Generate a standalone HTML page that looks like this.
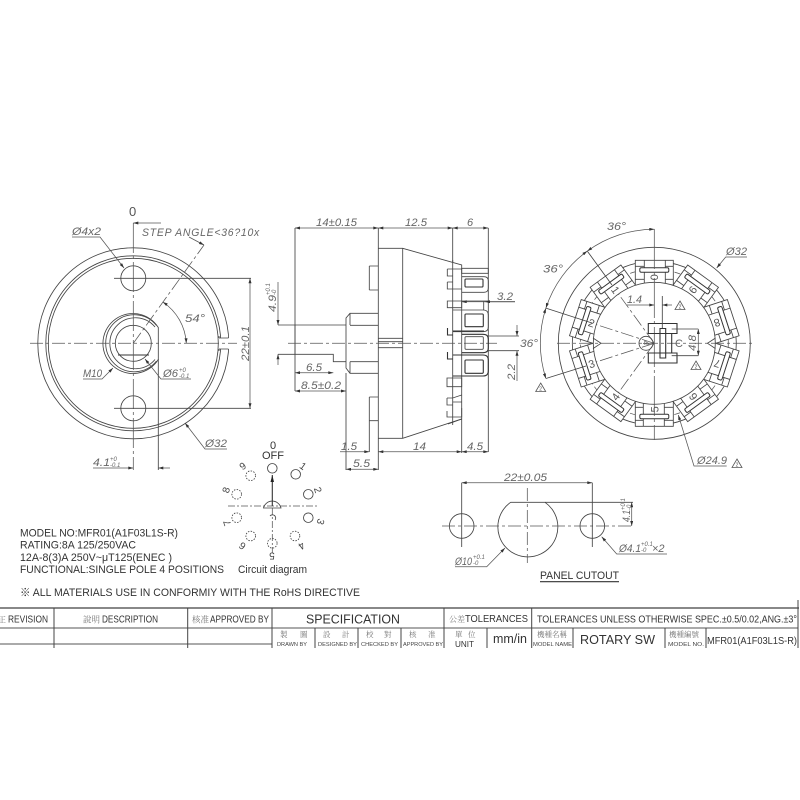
<!DOCTYPE html>
<html><head><meta charset="utf-8"><style>
html,body{margin:0;padding:0;background:#fff;width:800px;height:800px;overflow:hidden}
svg{display:block}
.l{fill:none;stroke:#444;stroke-width:.85}
.h{fill:none;stroke:#333;stroke-width:1.1}
.c{fill:none;stroke:#555;stroke-width:.75;stroke-dasharray:13 3 3 3}
.d{fill:none;stroke:#555;stroke-width:.75;marker-start:url(#a);marker-end:url(#a)}
.e{fill:none;stroke:#555;stroke-width:.75;marker-end:url(#a)}
.t{font-family:"Liberation Sans",sans-serif;font-style:italic;font-size:11px;fill:#666}
.s{font-family:"Liberation Sans",sans-serif;font-style:italic;font-size:6px;fill:#666}
.n{font-family:"Liberation Sans","Noto Sans CJK TC",sans-serif;font-size:11px;fill:#333}
.k{font-family:"Noto Serif CJK SC","Noto Sans CJK TC",serif;font-size:7.5px;fill:#777}
.m{font-family:"Liberation Sans",sans-serif;font-size:5px;fill:#444}
.g{font-family:"Liberation Sans",sans-serif;font-size:10px;fill:#444}
.w{font-family:"Liberation Sans",sans-serif;font-size:5px;fill:#555;text-anchor:middle}
</style></head><body>
<svg width="800" height="800" viewBox="0 0 800 800" xmlns="http://www.w3.org/2000/svg">
<defs>
<marker id="a" viewBox="0 0 10 6" refX="10" refY="3" markerWidth="7" markerHeight="3" markerUnits="userSpaceOnUse" orient="auto-start-reverse"><path d="M0 0L10 3L0 6Z" fill="#333"/></marker>
<g id="ct">
<path d="M-19-83H19V-58H-19Z" fill="#fff" stroke="#444" stroke-width=".85"/>
<path d="M-10-83V-58M11-83V-58M-19-77H-10M11-77H19M-19-64H-10M11-64H19" class="l"/>
<rect x="-14.500" y="-75.500" width="29" height="4.500" rx="1.500" fill="#fff" stroke="#333" stroke-width="1"/>
</g>
<g id="tr"><path d="M0-5L5 3.500H-5Z" fill="none" stroke="#555" stroke-width=".8"/></g>
</defs>
<rect width="800" height="800" fill="#fff"/>

<!-- LEFT VIEW -->
<g>
<circle cx="133.300" cy="343.300" r="95.500" class="l"/>
<circle cx="133.300" cy="343.300" r="87.500" class="l"/>
<circle cx="133.300" cy="343.300" r="85" class="l"/>
<rect x="219" y="338" width="11" height="11" fill="#fff"/>
<path d="M219 338H228.500M219 349H228.500M219 338V336M219 349V351" class="l"/>
<circle cx="133.300" cy="278.300" r="12.500" class="l"/>
<circle cx="133.300" cy="408.300" r="12.500" class="l"/>
<path d="M158.300 327.500A30 30 0 1 0 158.300 359.500Z" class="l"/>
<path d="M156.500 325.500A28.500 28.500 0 1 0 156.500 361" class="l"/>
<path d="M155 327A25.500 25.500 0 1 0 155 359.500" class="l"/>
<circle cx="133.300" cy="343.300" r="18" class="l"/>
<path d="M118 355H149" class="h"/>
<path d="M30 343.300H237" class="c"/>
<path d="M133.300 223V470" class="c" style="stroke-dasharray:30 3 3 3"/>
<path d="M114 278.300H251M114 408.300H251" class="l"/>
<path d="M158.300 359V470" class="l"/>
<path d="M133.300 343.300L204 245" class="c"/>
<path d="M189 237L204 245" class="e"/>
<path d="M161 223H133.300" class="e"/>
<path d="M162.800 302A53 53 0 0 1 186.300 343.300" class="d"/>
<path d="M250 278.300V408.300" class="d"/>
<path d="M72 237H100L124 268" class="e"/>
<path d="M83 379H102L113 368" class="e"/>
<path d="M191 379H161L145 359" class="e"/>
<path d="M227 449H205L185 423" class="e"/>
<path d="M93 468H133.300" class="e"/>
<path d="M170 468H158.300" class="e"/>
<text x="129" y="216" class="n" style="font-size:13px;fill:#555">0</text>
<text x="142" y="236" class="t" style="letter-spacing:.8px" textLength="118" lengthAdjust="spacingAndGlyphs">STEP ANGLE&lt;36?10x</text>
<text x="72" y="235" class="t" textLength="29" lengthAdjust="spacingAndGlyphs">Ø4x2</text>
<text x="185" y="322" class="t" textLength="20" lengthAdjust="spacingAndGlyphs">54°</text>
<text transform="translate(250 361) rotate(-90)" x="0" y="-1" class="t" textLength="35" lengthAdjust="spacingAndGlyphs">22±0.1</text>
<text x="83" y="377" class="t" textLength="19" lengthAdjust="spacingAndGlyphs">M10</text>
<text x="163" y="377" class="t" textLength="15" lengthAdjust="spacingAndGlyphs">Ø6</text>
<text x="179" y="372" class="s">+0</text><text x="179" y="378" class="s">-0.1</text>
<text x="205" y="447" class="t" textLength="22" lengthAdjust="spacingAndGlyphs">Ø32</text>
<text x="93" y="466" class="t" textLength="17" lengthAdjust="spacingAndGlyphs">4.1</text>
<text x="110" y="461" class="s">+0</text><text x="110" y="467" class="s">-0.1</text>
</g>

<!-- MIDDLE VIEW -->
<g>
<path d="M295 228V391M378.300 228V470M452.700 228V262M488.300 228V452M346 373V470M369.300 438V452" class="l"/>
<path d="M295 228H378.300" class="d"/><path d="M378.300 228H452.700" class="d"/><path d="M452.700 228H488.300" class="d"/>
<path d="M378.300 248.300H402.700L461.700 265V268M378.300 438.300H402.700L461.700 419V423M402.700 248.300V438.300M452.700 260V425M461.700 265V453" class="l"/>
<path d="M378.300 338.300H402.700M378.300 341.700H402.700M378.300 347.700H402.700" class="l"/>
<path d="M369.300 266H378.300M369.300 290H378.300M369.300 266V290M369.300 397H378.300M369.300 397V438M369.300 420.700H378.300" class="l"/>
<path d="M378.300 313.300H350L346 318V368L350 373.300H378.300M350 313.300V325M350 361.700V373.300M350 325.300H378.300M350 361.700H378.300" class="l"/>
<path d="M278 325H346M278 354.300H333.300V361.700H346M295 325V354.300" class="l"/>
<path d="M288 343.300H497" class="c"/>
<path d="M278 282V325" class="e"/><path d="M278 365V354.300" class="e"/>
<text transform="translate(276 312) rotate(-90)" x="0" y="0" class="t" textLength="17" lengthAdjust="spacingAndGlyphs">4.9</text>
<text transform="translate(270 295) rotate(-90)" x="0" y="0" class="s">+0.1</text>
<text transform="translate(276 295) rotate(-90)" x="0" y="0" class="s">-0</text>
<!-- terminals -->
<path d="M461.700 268.300H488.300V273.300H461.700Z" class="l"/>
<path d="M447.300 269H461.700M447.300 269V276H452.700M461.700 276.700H484Q488.300 276.700 488.300 281V288Q488.300 292.300 484 292.300H461.700" class="l"/>
<rect x="465" y="279" width="18" height="8" rx="1" class="h"/>
<path d="M447.300 282H452.700M447.300 282V289H461.700" class="l"/>
<path d="M447.300 301H461.700V307.700H447.300Z" class="l"/>
<path d="M452.700 310H483Q488.300 310 488.300 315V327Q488.300 331.700 483 331.700H452.700M483.700 301V310M461.700 301H488" class="l"/>
<rect x="465" y="314" width="18.300" height="12.700" rx="1" class="h"/>
<path d="M447.500 328V335H452.700M452.700 331H484" class="h"/>
<path d="M461.700 334.300H483Q488.300 334.300 488.300 339V348Q488.300 352.700 483 352.700H461.700" class="h"/>
<rect x="465" y="336.700" width="18.300" height="12.600" rx="1" class="l"/>
<path d="M447.500 352V359H452.700M452.700 355H483Q488.300 355 488.300 360V371Q488.300 376 483 376H452.700" class="h"/>
<rect x="465" y="360" width="18.300" height="13.300" rx="1" class="h"/>
<path d="M447 378H461.700V386.700H447ZM447 398H452.700L461.700 395M447 398V405H452.700M452.700 402H461.700M447 411V417H461.700V408M448 424L461.700 419" class="l"/>
<path d="M488 301.700H515" class="l"/><path d="M488 301.700H461.700" class="e"/><path d="M485 301.700H515" class="e" style="marker-end:none;marker-start:url(#a)"/>
<path d="M488 336H519M488 350.700H519" class="l"/>
<path d="M517 325V336" class="e"/>
<path d="M517 381V350.700" class="e"/>
<path d="M340 451.700H369.300" class="e"/>
<path d="M378.300 451.700H461.700" class="d"/><path d="M461.700 451.700H488.300" class="d"/>
<path d="M346 469.300H378.300" class="d"/>
<path d="M295 372.700H333.300" class="d"/><path d="M295 391H346" class="d"/>
<text x="316" y="226" class="t" textLength="41" lengthAdjust="spacingAndGlyphs">14±0.15</text>
<text x="405" y="226" class="t" textLength="22" lengthAdjust="spacingAndGlyphs">12.5</text>
<text x="467" y="226" class="t">6</text>
<text x="497" y="300" class="t" textLength="16" lengthAdjust="spacingAndGlyphs">3.2</text>
<text x="520" y="347" class="t" textLength="18" lengthAdjust="spacingAndGlyphs">36°</text>
<text transform="translate(515 380) rotate(-90)" class="t" textLength="16" lengthAdjust="spacingAndGlyphs">2.2</text>
<text x="341" y="450" class="t" textLength="16" lengthAdjust="spacingAndGlyphs">1.5</text>
<text x="413" y="450" class="t" textLength="13" lengthAdjust="spacingAndGlyphs">14</text>
<text x="467" y="450" class="t" textLength="16" lengthAdjust="spacingAndGlyphs">4.5</text>
<text x="353" y="467" class="t" textLength="17" lengthAdjust="spacingAndGlyphs">5.5</text>
<text x="306" y="371" class="t" textLength="16" lengthAdjust="spacingAndGlyphs">6.5</text>
<text x="301" y="389" class="t" textLength="40" lengthAdjust="spacingAndGlyphs">8.5±0.2</text>
</g>

<!-- RIGHT VIEW -->
<g>
<circle cx="654.300" cy="343.300" r="96" class="l"/>
<circle cx="654.300" cy="343.300" r="82" class="l"/>
<circle cx="654.300" cy="343.300" r="74" class="c" style="stroke-dasharray:6 3"/>
<use href="#ct" transform="translate(654.300 343.300)"/>
<use href="#ct" transform="translate(654.300 343.300) rotate(36)"/>
<use href="#ct" transform="translate(654.300 343.300) rotate(72)"/>
<use href="#ct" transform="translate(654.300 343.300) rotate(108)"/>
<use href="#ct" transform="translate(654.300 343.300) rotate(144)"/>
<use href="#ct" transform="translate(654.300 343.300) rotate(180)"/>
<use href="#ct" transform="translate(654.300 343.300) rotate(216)"/>
<use href="#ct" transform="translate(654.300 343.300) rotate(252)"/>
<use href="#ct" transform="translate(654.300 343.300) rotate(288)"/>
<use href="#ct" transform="translate(654.300 343.300) rotate(324)"/>
<circle cx="654.300" cy="343.300" r="61" fill="#fff" stroke="#444" stroke-width=".85"/>
<g class="t" style="font-size:11px;text-anchor:middle;font-style:normal;fill:#555">
<text transform="translate(654.300 343.300) rotate(90 0 -66)" x="0" y="-62">0</text>
<text transform="translate(654.300 343.300) rotate(-36) rotate(90 0 -66)" x="0" y="-62">1</text>
<text transform="translate(654.300 343.300) rotate(-72) rotate(90 0 -66)" x="0" y="-62">2</text>
<text transform="translate(654.300 343.300) rotate(-108) rotate(90 0 -66)" x="0" y="-62">3</text>
<text transform="translate(654.300 343.300) rotate(-144) rotate(90 0 -66)" x="0" y="-62">4</text>
<text transform="translate(654.300 343.300) rotate(180) rotate(90 0 -66)" x="0" y="-62">5</text>
<text transform="translate(654.300 343.300) rotate(144) rotate(90 0 -66)" x="0" y="-62">6</text>
<text transform="translate(654.300 343.300) rotate(108) rotate(90 0 -66)" x="0" y="-62">7</text>
<text transform="translate(654.300 343.300) rotate(72) rotate(90 0 -66)" x="0" y="-62">8</text>
<text transform="translate(654.300 343.300) rotate(36) rotate(90 0 -66)" x="0" y="-62">9</text>
</g>
<path d="M557 343.300H752" class="c"/>
<path d="M654.300 229V440" class="c" style="stroke-dasharray:40 3 3 3"/>
<path d="M654.300 343.300L618.500 294M654.300 343.300L596 324.500M654.300 343.300L596 362M654.300 343.300L618.500 392.600" class="c"/>
<path d="M587.300 251.100L612 285M545.900 308.100L592 323M545.900 378.500L586 366" class="l"/>
<path d="M654.300 229.300A114 114 0 0 0 587.300 251.100" class="d"/>
<path d="M587.300 251.100A114 114 0 0 0 545.900 308.100" class="d"/>
<path d="M545.900 308.100A114 114 0 0 0 545.900 378.500" class="d"/>
<path d="M593 338L601 343.300L593 348.600M715.500 338L707.500 343.300L715.500 348.600" class="l"/>
<circle cx="646" cy="343.300" r="7" class="l"/>
<text transform="translate(646 343.300) rotate(90)" x="-3" y="3" class="t" style="font-size:9px">4</text>
<path d="M648.300 323.500H677V333.500H648.300ZM648.300 353H677V363H648.300ZM660 328.500H665.700V358H660ZM665.700 333.500H671.700V353M654.300 333.500H660" class="h"/>
<path d="M671.700 329H698.300M671.700 355.700H698.300M662.300 296V328" class="l"/>
<path d="M698.300 343V329" class="e"/><path d="M698.300 343V355.700" class="e"/>
<path d="M627 305H654.300" class="e"/><path d="M672 305H662.300" class="e"/>
<path d="M747 257H725.700L716.700 268" class="e"/>
<path d="M726.700 466H694L678.300 415" class="e"/>
<text x="675" y="347" class="t" style="font-size:11px;font-style:normal">C</text>
<text transform="translate(696 351) rotate(-90)" class="t" textLength="16" lengthAdjust="spacingAndGlyphs">4.8</text>
<text x="627" y="303" class="t" textLength="15" lengthAdjust="spacingAndGlyphs">1.4</text>
<text x="607" y="230" class="t" textLength="19" lengthAdjust="spacingAndGlyphs">36°</text>
<text x="543" y="272.700" class="t" textLength="20" lengthAdjust="spacingAndGlyphs">36°</text>
<text x="726" y="255" class="t" textLength="21" lengthAdjust="spacingAndGlyphs">Ø32</text>
<text x="697" y="464" class="t" textLength="30" lengthAdjust="spacingAndGlyphs">Ø24.9</text>
<use href="#tr" x="680" y="306"/><text x="680" y="308.500" class="w">2</text>
<use href="#tr" x="696" y="366"/><text x="696" y="368.500" class="w">2</text>
<use href="#tr" x="540.700" y="388"/><text x="540.700" y="390.500" class="w">2</text>
<use href="#tr" x="737" y="464"/><text x="737" y="466.500" class="w">2</text>
</g>

<!-- CIRCUIT -->
<g>
<text x="273" y="449" class="n" text-anchor="middle">0</text>
<text x="273" y="459" class="n" text-anchor="middle">OFF</text>
<circle cx="272.300" cy="468.300" r="4.800" class="l"/>
<circle cx="295.700" cy="474.300" r="4.800" class="l"/>
<circle cx="308.300" cy="494.300" r="4.800" class="l"/>
<circle cx="308.300" cy="517.700" r="4.800" class="l"/>
<g class="l" style="stroke-dasharray:1.500 1.300">
<circle cx="295" cy="536" r="4.800"/><circle cx="272.300" cy="543.300" r="4.800"/><circle cx="250.700" cy="536" r="4.800"/><circle cx="236.700" cy="517.700" r="4.800"/><circle cx="236.700" cy="494.300" r="4.800"/><circle cx="250.700" cy="475.700" r="4.800"/>
</g>
<path d="M228 506H317M272.300 508V553" class="c" style="stroke-dasharray:7 2 2 2"/>
<path d="M263.500 508A9 9 0 0 1 281 508Z" class="l"/>
<path d="M272.300 506V475" class="h"/><path d="M272.300 482L270.500 482L272.300 475L274 482Z" fill="#222"/>
<path d="M270 516A3 3 0 1 1 275 520" class="l"/>
<g class="g" text-anchor="middle">
<text transform="translate(303 466) rotate(36)" y="3.500">1</text>
<text transform="translate(318 490) rotate(72)" y="3.500">2</text>
<text transform="translate(320.700 521.700) rotate(108)" y="3.500">3</text>
<text transform="translate(301.700 546) rotate(144)" y="3.500">4</text>
<text transform="translate(272 556) rotate(180)" y="3.500">5</text>
<text transform="translate(242.300 546) rotate(216)" y="3.500">6</text>
<text transform="translate(227 523) rotate(252)" y="3.500">7</text>
<text transform="translate(226 490) rotate(288)" y="3.500">8</text>
<text transform="translate(242.700 466) rotate(324)" y="3.500">9</text>
</g>
</g>

<!-- PANEL CUTOUT -->
<g>
<circle cx="461.700" cy="526" r="12.300" class="l"/>
<circle cx="592.300" cy="526" r="12.300" class="l"/>
<path d="M510.700 502.300H544L545 502.300A30 30 0 1 1 510.700 502.300Z" class="l"/>
<path d="M442 526H633" class="c"/>
<path d="M527.300 488V563" class="c"/>
<path d="M461.700 482.700V547M592.300 482.700V547M545 502.300H633" class="l"/>
<path d="M461.700 482.700H592.300" class="d"/>
<path d="M631.700 502.300V526" class="d"/>
<path d="M455 566.700H486.700L505 548" class="e"/>
<path d="M667 554H616.700L601.700 536.700" class="e"/>
<text x="504" y="481" class="t" textLength="43" lengthAdjust="spacingAndGlyphs">22±0.05</text>
<text transform="translate(630 522) rotate(-90)" class="t" textLength="12" lengthAdjust="spacingAndGlyphs">4.1</text>
<text transform="translate(625 510) rotate(-90)" class="s">+0.1</text>
<text transform="translate(631 510) rotate(-90)" class="s">-0</text>
<text x="455" y="565" class="t" textLength="17" lengthAdjust="spacingAndGlyphs">Ø10</text>
<text x="473" y="559" class="s">+0.1</text><text x="473" y="565" class="s">-0</text>
<text x="619" y="552" class="t" textLength="22" lengthAdjust="spacingAndGlyphs">Ø4.1</text>
<text x="641" y="546" class="s">+0.1</text><text x="641" y="552" class="s">-0</text>
<text x="652" y="552" class="t">×2</text>
<text x="540" y="579" class="n" textLength="79" lengthAdjust="spacingAndGlyphs">PANEL CUTOUT</text>
<path d="M540 581.700H619" class="h"/>
</g>

<!-- NOTES -->
<g class="n">
<text x="20" y="536.700" textLength="158" lengthAdjust="spacingAndGlyphs">MODEL NO:MFR01(A1F03L1S-R)</text>
<text x="20" y="548.700" textLength="116" lengthAdjust="spacingAndGlyphs">RATING:8A 125/250VAC</text>
<text x="20" y="561" textLength="152" lengthAdjust="spacingAndGlyphs">12A-8(3)A 250V~μT125(ENEC )</text>
<text x="20" y="573" textLength="204" lengthAdjust="spacingAndGlyphs">FUNCTIONAL:SINGLE POLE 4 POSITIONS</text>
<text x="238" y="573" textLength="69" lengthAdjust="spacingAndGlyphs">Circuit diagram</text>
<text x="20" y="596" textLength="340" lengthAdjust="spacingAndGlyphs">※ ALL MATERIALS USE IN CONFORMIY  WITH THE RoHS DIRECTIVE</text>
</g>

<!-- TITLE BLOCK -->
<g>
<path d="M0 608H799" stroke="#888" stroke-width="2" fill="none"/>
<path d="M0 628H798M0 644H272" stroke="#555" stroke-width="1" fill="none"/>
<path d="M54 608V648M187.700 608V648M272 608V648M444 608V648M531.700 608V648M798 600V648M315 628V648M358 628V648M401 628V648M487 628V648M573 628V648M665 628V648M706 628V648" stroke="#444" stroke-width="1" fill="none"/>
<g class="n" style="font-size:10px">
<text x="-2" y="622.700" class="k" style="font-size:8px">正</text>
<text x="8" y="622.700" textLength="40" lengthAdjust="spacingAndGlyphs">REVISION</text>
<text x="83" y="622.700" class="k" style="font-size:8.500px">說明</text>
<text x="102" y="622.700" textLength="56" lengthAdjust="spacingAndGlyphs">DESCRIPTION</text>
<text x="192" y="622.700" class="k" style="font-size:8.500px">核准</text>
<text x="210" y="622.700" textLength="59" lengthAdjust="spacingAndGlyphs">APPROVED BY</text>
<text x="306" y="623.500" style="font-size:13px" textLength="94" lengthAdjust="spacingAndGlyphs">SPECIFICATION</text>
<text x="449" y="622" class="k" style="font-size:8px">公差</text>
<text x="465" y="622" textLength="63" lengthAdjust="spacingAndGlyphs">TOLERANCES</text>
<text x="537" y="622.500" textLength="260" lengthAdjust="spacingAndGlyphs">TOLERANCES UNLESS OTHERWISE SPEC.±0.5/0.02,ANG.±3°</text>
<text x="493" y="643" style="font-size:13px" textLength="34" lengthAdjust="spacingAndGlyphs">mm/in</text>
<text x="580" y="644" style="font-size:13px" textLength="75" lengthAdjust="spacingAndGlyphs">ROTARY SW</text>
<text x="707" y="644" textLength="90" lengthAdjust="spacingAndGlyphs">MFR01(A1F03L1S-R)</text>
<text x="455" y="647" style="font-size:8px" textLength="19" lengthAdjust="spacingAndGlyphs">UNIT</text>
</g>
<text x="280" y="637" class="k">製</text><text x="300" y="637" class="k">圖</text>
<text x="277" y="646" class="m" textLength="30" lengthAdjust="spacingAndGlyphs">DRAWN BY</text>
<text x="323" y="637" class="k">設</text><text x="342" y="637" class="k">計</text>
<text x="318" y="646" class="m" textLength="39" lengthAdjust="spacingAndGlyphs">DESIGNED BY</text>
<text x="366" y="637" class="k">校</text><text x="384" y="637" class="k">對</text>
<text x="361" y="646" class="m" textLength="37" lengthAdjust="spacingAndGlyphs">CHECKED BY</text>
<text x="409" y="637" class="k">核</text><text x="428" y="637" class="k">准</text>
<text x="403" y="646" class="m" textLength="40" lengthAdjust="spacingAndGlyphs">APPROVED BY</text>
<text x="455" y="637" class="k">單</text><text x="468" y="637" class="k">位</text>
<text x="537" y="637" class="k">機種名稱</text>
<text x="533" y="646" class="m" textLength="39" lengthAdjust="spacingAndGlyphs">MODEL NAME</text>
<text x="669" y="637" class="k">機種編號</text>
<text x="668" y="646" class="m" textLength="36" lengthAdjust="spacingAndGlyphs">MODEL NO.</text>
</g>
</svg>
</body></html>
